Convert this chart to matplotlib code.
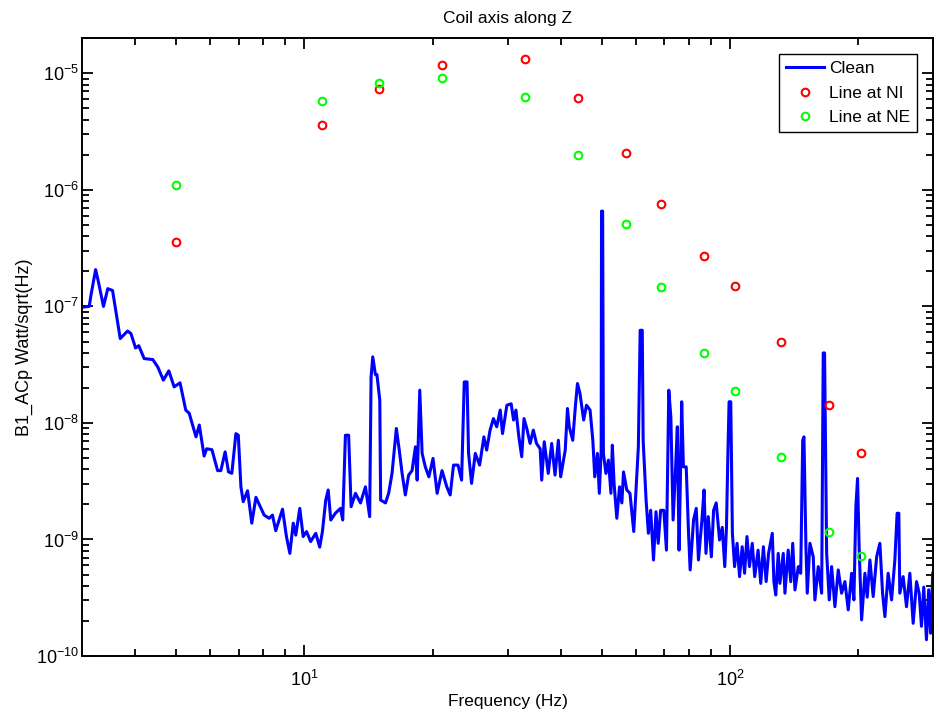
import numpy as np
import matplotlib
matplotlib.use("Agg")
import matplotlib.pyplot as plt


# "Clean" spectrum (Hz, Watt/sqrt(Hz))
clean_freq = [
    3.04, 3.12, 3.15, 3.23, 3.28, 3.37, 3.45, 3.54, 3.61, 3.69,
    3.84, 3.91, 4.01, 4.08, 4.20, 4.40, 4.52, 4.66, 4.80, 4.94,
    5.10, 5.26, 5.36, 5.56, 5.66, 5.81, 5.89, 6.06, 6.25, 6.36,
    6.51, 6.63, 6.75, 6.90, 6.99, 7.09, 7.18, 7.35, 7.52, 7.69,
    8.04, 8.26, 8.41, 8.56, 8.88, 9.07, 9.24, 9.41, 9.54, 9.75,
    9.93, 10.11, 10.34, 10.63, 10.86, 11.02, 11.22, 11.37, 11.53, 11.82,
    12.15, 12.30, 12.48, 12.70, 12.87, 13.18, 13.54, 13.91, 14.23, 14.34,
    14.47, 14.68, 14.80, 15.03, 15.10, 15.50, 15.77, 16.06, 16.44, 16.70,
    16.96, 17.26, 17.57, 17.90, 18.23, 18.40, 18.66, 18.90, 19.23, 19.60,
    20.05, 20.50, 21.05, 21.60, 22.00, 22.40, 22.95, 23.40, 23.74, 24.10,
    24.30, 24.70, 25.20, 25.80, 26.40, 26.80, 27.30, 27.80, 28.30, 28.84,
    29.20, 29.90, 30.60, 31.00, 31.40, 31.90, 32.40, 32.80, 33.30, 33.90,
    34.50, 35.10, 35.80, 36.10, 36.60, 37.40, 38.10, 38.80, 39.50, 40.00,
    41.00, 41.50, 41.90, 42.70, 43.30, 43.80, 44.40, 45.30, 46.00, 46.90,
    47.60, 48.10, 48.80, 49.30, 49.80, 49.90, 50.20, 50.40, 51.10, 51.80,
    52.50, 52.90, 53.40, 54.20, 55.00, 55.70, 56.20, 57.20, 58.20, 59.40,
    60.20, 60.90, 61.50, 62.20, 62.50, 63.50, 64.30, 65.10, 66.10, 67.00,
    67.80, 68.70, 69.90, 70.90, 71.80, 72.60, 73.50, 74.40, 75.20, 75.90,
    76.30, 77.00, 77.70, 78.90, 79.90, 80.60, 82.10, 83.30, 84.30, 85.90,
    86.90, 87.80, 88.90, 90.40, 91.50, 92.80, 94.50, 95.90, 97.20, 98.10,
    98.90, 99.50, 100.40, 101.30, 102.50, 103.90, 105.30, 106.80, 108.20, 109.60,
    111.10, 112.80, 114.30, 116.40, 118.10, 119.80, 121.60, 123.20, 125.70, 126.80,
    128.10, 129.80, 131.00, 133.40, 134.60, 137.00, 138.90, 140.40, 142.10, 144.70,
    146.60, 148.20, 149.20, 150.80, 151.90, 154.10, 156.90, 158.30, 161.20, 164.20,
    165.60, 166.80, 168.70, 171.10, 173.30, 176.40, 179.60, 182.90, 186.20, 189.60,
    193.10, 195.50, 197.60, 199.40, 201.10, 203.80, 207.50, 210.10, 213.20, 217.00,
    221.10, 225.00, 228.30, 231.20, 235.30, 239.70, 244.00, 247.00, 249.30, 250.60,
    255.20, 259.90, 264.60, 269.40, 274.40, 278.30, 281.80, 285.30, 289.50, 293.00,
    296.00, 299.50,
]
clean_psd = [
    9.9e-8, 1.0e-7, 1.25e-7, 2.07e-7, 1.62e-7, 1.0e-7, 1.42e-7, 1.37e-7, 8.7e-8, 5.3e-8,
    6.15e-8, 5.85e-8, 4.4e-8, 4.6e-8, 3.57e-8, 3.5e-8, 3.03e-8, 2.33e-8, 2.8e-8, 2.04e-8,
    2.21e-8, 1.29e-8, 1.21e-8, 7.6e-9, 9.6e-9, 5.2e-9, 6.0e-9, 5.9e-9, 3.9e-9, 3.9e-9,
    5.65e-9, 3.8e-9, 3.7e-9, 8.1e-9, 7.85e-9, 2.83e-9, 2.11e-9, 2.62e-9, 1.38e-9, 2.3e-9,
    1.62e-9, 1.52e-9, 1.62e-9, 1.19e-9, 1.82e-9, 1.06e-9, 7.6e-10, 1.38e-9, 1.09e-9, 1.85e-9,
    1.06e-9, 1.17e-9, 9.6e-10, 1.13e-9, 8.6e-10, 1.17e-9, 2.18e-9, 2.66e-9, 1.47e-9, 1.68e-9,
    1.85e-9, 1.47e-9, 7.85e-9, 7.85e-9, 1.91e-9, 2.49e-9, 2.06e-9, 2.83e-9, 1.57e-9, 2.48e-8,
    3.69e-8, 2.6e-8, 2.6e-8, 1.57e-8, 2.18e-9, 2.06e-9, 2.49e-9, 3.69e-9, 8.97e-9, 5.85e-9,
    3.69e-9, 2.41e-9, 3.57e-9, 3.9e-9, 6.24e-9, 3.23e-9, 1.91e-8, 5.48e-9, 4.2e-9, 3.45e-9,
    4.96e-9, 2.49e-9, 3.9e-9, 2.83e-9, 2.41e-9, 4.35e-9, 4.35e-9, 3.23e-9, 2.25e-8, 2.25e-8,
    5.48e-9, 3.03e-9, 5.48e-9, 4.35e-9, 7.6e-9, 5.85e-9, 8.67e-9, 1.09e-8, 9.27e-9, 1.29e-8,
    8.1e-9, 1.42e-8, 1.46e-8, 1.06e-8, 1.29e-8, 7.6e-9, 5.13e-9, 1.09e-8, 8.97e-9, 6.67e-9,
    8.67e-9, 6.67e-9, 6.0e-9, 3.23e-9, 6.9e-9, 3.69e-9, 6.67e-9, 3.57e-9, 7.1e-9, 3.45e-9,
    5.85e-9, 1.33e-8, 9.27e-9, 7.1e-9, 1.37e-8, 2.18e-8, 1.79e-8, 1.06e-8, 1.42e-8, 1.29e-8,
    7.1e-9, 3.45e-9, 5.48e-9, 2.49e-9, 5.85e-9, 6.57e-7, 6.57e-7, 5.48e-9, 3.69e-9, 4.8e-9,
    2.49e-9, 6.45e-9, 3.03e-9, 1.52e-9, 2.83e-9, 2.06e-9, 3.8e-9, 2.66e-9, 2.49e-9, 1.17e-9,
    2.83e-9, 6.24e-9, 6.24e-8, 6.24e-8, 7.1e-9, 2.18e-9, 1.13e-9, 1.78e-9, 6.67e-10, 1.73e-9,
    9.27e-10, 1.78e-9, 1.78e-9, 8.1e-10, 1.91e-8, 1.13e-8, 1.47e-9, 3.69e-9, 9.27e-9, 8.1e-10,
    2.18e-9, 1.52e-8, 4.2e-9, 4.2e-9, 1.13e-9, 5.48e-10, 1.47e-9, 1.85e-9, 6.67e-10, 1.47e-9,
    2.66e-9, 7.6e-10, 1.57e-9, 7.1e-10, 1.78e-9, 2.06e-9, 9.9e-10, 1.27e-9, 5.85e-10, 1.27e-9,
    5.85e-9, 1.52e-8, 1.52e-8, 1.13e-9, 5.85e-10, 9.27e-10, 4.8e-10, 8.67e-10, 5.13e-10, 1.06e-9,
    5.85e-10, 9.27e-10, 4.8e-10, 8.1e-10, 4.2e-10, 8.67e-10, 4.35e-10, 7.6e-10, 1.13e-9, 4.35e-10,
    3.34e-10, 7.6e-10, 4.2e-10, 7.6e-10, 3.46e-10, 8.1e-10, 4.35e-10, 9.27e-10, 3.69e-10, 5.85e-10,
    5.13e-10, 7.1e-9, 7.6e-9, 8.67e-10, 3.46e-10, 9.27e-10, 7.1e-10, 3.03e-10, 5.85e-10, 3.46e-10,
    3.99e-8, 3.99e-8, 7.6e-10, 3.03e-10, 5.85e-10, 2.65e-10, 5.48e-10, 3.46e-10, 4.35e-10, 2.49e-10,
    5.13e-10, 3.03e-10, 1.91e-9, 3.34e-9, 8.67e-10, 2.04e-10, 5.13e-10, 3.2e-10, 6.67e-10, 3.24e-10,
    7.1e-10, 9.27e-10, 3.46e-10, 2.18e-10, 5.13e-10, 3.03e-10, 6.67e-10, 1.68e-9, 1.68e-9, 3.46e-10,
    4.8e-10, 2.65e-10, 5.13e-10, 1.91e-10, 4.35e-10, 3.46e-10, 1.8e-10, 3.9e-10, 1.38e-10, 3.7e-10,
    1.57e-10, 5.13e-10,
]

# injected lines, measured at NI and NE
line_freq = [5, 11, 15, 21, 33, 44, 57, 69, 87, 102.5, 132, 171, 203]
ni_psd = [3.6e-7, 3.63e-6, 7.4e-6, 1.19e-5, 1.34e-5, 6.2e-6, 2.09e-6,
          7.6e-7, 2.69e-7, 1.49e-7, 4.99e-8, 1.43e-8, 5.48e-9]
ne_psd = [1.11e-6, 5.83e-6, 8.3e-6, 9.2e-6, 6.3e-6, 2.01e-6, 5.08e-7,
          1.46e-7, 3.99e-8, 1.88e-8, 5.13e-9, 1.17e-9, 7.22e-10]

x_ticks = [10, 100]
y_ticks = [1e-10, 1e-9, 1e-8, 1e-7, 1e-6, 1e-5]


plt.rcParams["font.family"] = ["Liberation Sans", "DejaVu Sans"]
plt.rcParams["mathtext.default"] = "regular"

fig = plt.figure(figsize=(9.4, 7.14), dpi=100)
ax = fig.add_axes([0.0872, 0.0812, 0.9054, 0.8652])

ax.loglog(clean_freq, clean_psd, color="#0000ff", lw=2.2, label="Clean")
ax.loglog(line_freq, ni_psd, ls="none", marker="o", ms=5.5, mfc="none",
          mec="#ff0000", mew=1.5, label="Line at NI")
ax.loglog(line_freq, ne_psd, ls="none", marker="o", ms=5.5, mfc="none",
          mec="#00ff00", mew=1.5, label="Line at NE")

ax.set_xticks(x_ticks)
ax.set_yticks(y_ticks)
ax.set_xlim(3, 300)
ax.set_ylim(1e-10, 2e-5)

ax.set_title("Coil axis along Z", fontsize=12.5, pad=11)
ax.set_xlabel("Frequency (Hz)", fontsize=12.5, va="center")
ax.xaxis.set_label_coords(0.5, -0.074)
ax.set_ylabel("B1_ACp Watt/sqrt(Hz)", fontsize=13)
ax.yaxis.set_label_coords(-0.058, 0.5)

for s in ax.spines.values():
    s.set_linewidth(1.4)
ax.tick_params(which="both", direction="in", top=True, right=True,
               labelsize=13, width=1.3)
ax.tick_params(axis="y", which="major", length=8, pad=2)
ax.tick_params(axis="x", which="major", length=8, pad=10)
ax.tick_params(which="minor", length=5)

leg = ax.legend(loc="upper right", fontsize=12.5, numpoints=1, fancybox=False,
                edgecolor="black", framealpha=1, borderaxespad=0.9,
                handlelength=2.2, handletextpad=0.3, labelspacing=0.55)
leg.get_frame().set_linewidth(1.0)

fig.savefig("out.png", dpi=100)
